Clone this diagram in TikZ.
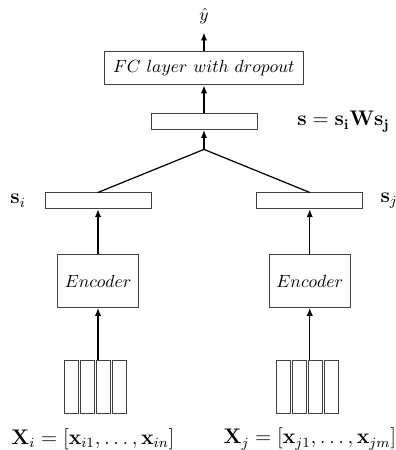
\documentclass[tikz,border=0pt]{standalone}
\usepackage{amsmath,amssymb}
\usepackage{tikz}
\usetikzlibrary{arrows.meta,positioning}

\begin{document}
\begin{tikzpicture}[
  x=1pt,y=1pt,
  box/.style={draw=black!75,line width=0.5pt,inner sep=0pt},
  enc/.style={box,minimum width=45.8pt,minimum height=30pt},
  vec/.style={box,minimum width=60.2pt,minimum height=9pt},
  fc/.style={box,minimum width=113.6pt,minimum height=19.3pt},
  tok/.style={box,minimum width=8pt,minimum height=30pt},
  lab/.style={inner sep=0pt,font=\large},
  ar/.style={-{Latex[length=4.5pt,width=3.6pt]},draw=black,line width=0.8pt},
  ln/.style={draw=black,line width=0.7pt}
]
\useasboundingbox (0,0) rectangle (225,-255.7);

\node[enc] (encI) at (55.7,-159.7) {$Encoder$};
\node[enc] (encJ) at (176.0,-159.7) {$Encoder$};
\node[vec,above=25.6pt of encI] (si) {};
\node[vec,above=25.6pt of encJ] (sj) {};
\node[lab,left=10.5pt of si] (siLab) {$\mathbf{s}_i$};
\node[lab,right=9.7pt of sj] (sjLab) {$\mathbf{s}_j$};
\coordinate (join) at (115.9,-84.9);
\node[vec,above=11pt of join] (s) {};
\node[lab,right=22.5pt of s] (sLab) {$\mathbf{s} = \mathbf{s_i W s_j}$};
\node[fc,above=15.9pt of s] (fc) {$FC\ layer\ with\ dropout$};
\node[inner sep=4.5pt,above=10.2pt of fc] (yhat) {$\hat{y}$};

\foreach \k in {1,...,4}{
  \node[tok] (xi\k) at ({40.5+9.1*(\k-1)},-220) {};
  \node[tok] (xj\k) at ({161+9.1*(\k-1)},-220) {};
}
\node[font=\large] (Xi) at (52.8,-249.4) {$\mathbf{X}_i = [\mathbf{x}_{i1}, \dots, \mathbf{x}_{in}]$};
\node[font=\large] (Xj) at (176.1,-249.4) {$\mathbf{X}_j = [\mathbf{x}_{j1}, \dots, \mathbf{x}_{jm}]$};

\draw[ar] (encI.south |- xi1.north) -- (encI.south);
\draw[ar] (encJ.south |- xj1.north) -- (encJ.south);
\draw[ar] (encI) -- (si);
\draw[ar] (encJ) -- (sj);
\draw[ln] (si.north) -- (join) -- (sj.north);
\draw[ar] (join) -- (s);
\draw[ar] (s) -- (fc);
\draw[ar] (fc) -- (yhat);
\end{tikzpicture}
\end{document}
